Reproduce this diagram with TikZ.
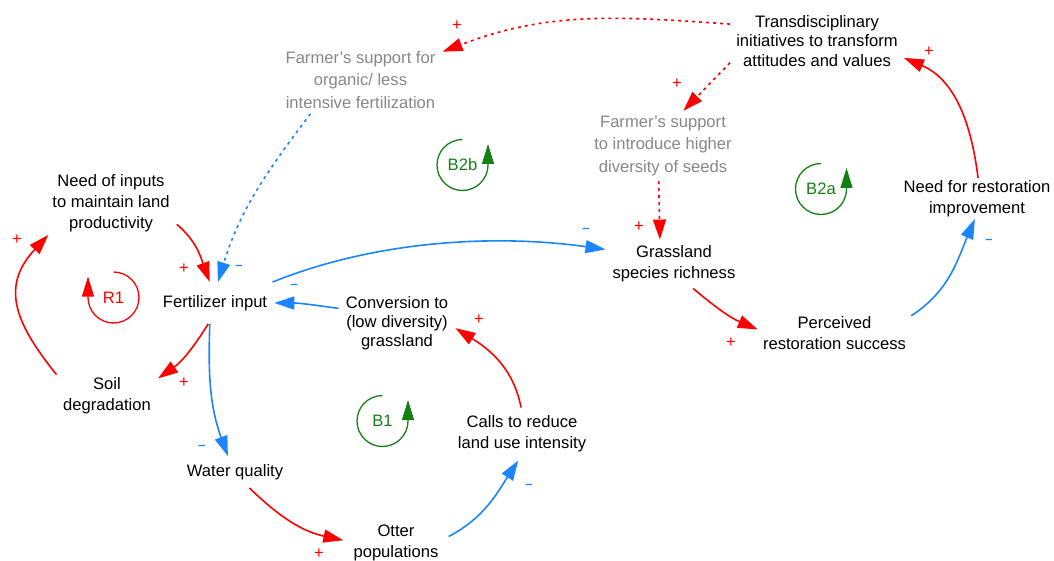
\documentclass[tikz,border=0pt]{standalone}
\usepackage{fontspec}
\setmainfont{Liberation Sans}
\usetikzlibrary{arrows.meta}
\definecolor{cred}{RGB}{255,0,0}
\definecolor{cblue}{RGB}{26,133,255}
\definecolor{cgreen}{RGB}{20,128,20}
\definecolor{cgray}{RGB}{135,135,135}
\begin{document}
\begin{tikzpicture}[x=1pt,y=1pt,
  lbl/.style={inner xsep=7pt, inner ysep=3pt, align=center, font=\fontsize{16.6}{21}\selectfont, text=black},
  gry/.style={text=cgray},
  plink/.style={-{Triangle[length=20pt,width=13pt]}, cred, line width=1.6pt},
  nlink/.style={-{Triangle[length=20pt,width=13pt]}, cblue, line width=1.6pt},
  dotl/.style={dash pattern=on 3pt off 4pt},
  sgnp/.style={text=cred, font=\fontsize{16.6}{20}\selectfont, inner sep=0pt},
  sgnn/.style={text=cblue, font=\bfseries\fontsize{13}{16}\selectfont, inner sep=0pt},
  looplbl/.style={font=\fontsize{16.6}{20}\selectfont, inner sep=0pt},
  loopc/.style={line width=1.3pt, -{Triangle[length=20pt,width=12pt]}},
]
\useasboundingbox (0,0) rectangle (1054,-561);

% variables
\node[lbl] (need) at (111,-203) {Need of inputs\\to maintain land\\productivity};
\node[lbl, inner ysep=13pt] (fert) at (215,-303) {Fertilizer input};
\node[lbl] (soil) at (107,-396) {Soil\\degradation};
\node[lbl, inner ysep=8pt] (water) at (235,-472) {Water quality};
\node[lbl, inner xsep=10pt] (otter) at (396,-543) {Otter\\populations};
\node[lbl, inner ysep=8pt] (calls) at (522,-434) {Calls to reduce\\land use intensity};
\node[lbl, font=\fontsize{16.6}{19}\selectfont] (conv) at (397,-323) {Conversion to\\(low diversity)\\grassland};
\node[lbl, gry, inner ysep=5pt, font=\fontsize{16.6}{22.5}\selectfont] (farm1) at (360.5,-80) {Farmer’s support for\\organic/ less\\intensive fertilization};
\node[lbl, gry, inner ysep=5pt, font=\fontsize{16.6}{22.5}\selectfont] (seeds) at (663,-146) {Farmer’s support\\to introduce higher\\diversity of seeds};
\node[lbl, inner xsep=6pt, font=\fontsize{16.6}{19.5}\selectfont] (trans) at (817,-41) {Transdisciplinary\\initiatives to transform\\attitudes and values};
\node[lbl, inner ysep=2pt, inner xsep=5pt] (needrest) at (977,-198.5) {Need for restoration\\improvement};
\node[lbl, inner ysep=6pt] (grass) at (674,-264) {Grassland\\species richness};
\node[lbl, inner xsep=5pt] (perc) at (834.5,-333.5) {Perceived\\restoration success};

% loop labels
\node[looplbl, text=cred] (r1) at (113.5,-297.5) {R1};
\node[looplbl, text=cgreen] (b1) at (382.5,-421) {B1};
\node[looplbl, text=cgreen] (b2b) at (462.5,-165) {B2b};
\node[looplbl, text=cgreen] (b2a) at (821,-189) {B2a};
\draw[cred, loopc] ([shift={(90:25.5)}]r1.center) arc[start angle=90, end angle=-180, radius=25.5] -- ++(0,21);
\draw[cgreen, loopc] ([shift={(90:25.5)}]b1.center) arc[start angle=90, end angle=360, radius=25.5] -- ++(0,21);
\draw[cgreen, loopc] ([shift={(90:25.5)}]b2b.center) arc[start angle=90, end angle=360, radius=25.5] -- ++(0,21);
\draw[cgreen, loopc] ([shift={(90:25.5)}]b2a.center) arc[start angle=90, end angle=360, radius=25.5] -- ++(0,21);

% connectors
\draw[plink] (need.-18) to[out=-40,in=110] (fert.104);
\draw[nlink,dotl] (farm1.-146) to[out=-127,in=73] (fert.82);
\draw[plink] (fert.-108) to[out=-122,in=35] (soil.19);
\draw[plink] (soil.157) to[out=129,in=-133,looseness=1.26] (need.-153);
\draw[nlink] (fert.-104) to[out=-92,in=110] (water.114);
\draw[plink] (water.-48) to[out=-44,in=168] (otter.177);
\draw[nlink] (otter.7) to[out=28,in=-123] (calls.-98);
\draw[plink] (calls.92) to[out=101,in=-32] (conv.-5);
\draw[nlink] (conv.166) to[out=172,in=0] (fert.0);
\draw[nlink] (fert.20) to[out=22,in=172,looseness=0.85] (grass.168);
\draw[plink,dotl] (seeds.-97) -- (grass.120);
\draw[plink] (grass.-52) to[out=-40,in=157] (perc.177);
\draw[nlink] (perc.13) to[out=33,in=-113] (needrest.-96);
\draw[plink] (needrest.87) to[out=97,in=-23] (trans.-11);
\draw[plink,dotl] (trans.169) to[out=176,in=21,looseness=1.0] (farm1.19);
\draw[plink,dotl] (trans.-166) -- (seeds.60);

% polarity signs
\node[sgnp] (s1) at (184,-269) {+};
\node[sgnn] (s2) at (239,-267) {–};
\node[sgnn] (s3) at (294,-286) {–};
\node[sgnp] (s4) at (184,-383) {+};
\node[sgnp] (s5) at (17,-240) {+};
\node[sgnn] (s6) at (202,-447) {–};
\node[sgnp] (s7) at (319,-553.5) {+};
\node[sgnn] (s8) at (529,-486) {–};
\node[sgnp] (s9) at (479,-320) {+};
\node[sgnn] (s10) at (586,-230) {–};
\node[sgnp] (s11) at (639,-227) {+};
\node[sgnp] (s12) at (731,-343) {+};
\node[sgnn] (s13) at (989,-241) {–};
\node[sgnp] (s14) at (929,-52) {+};
\node[sgnp] (s15) at (457,-26) {+};
\node[sgnp] (s16) at (677,-84) {+};
\end{tikzpicture}
\end{document}
